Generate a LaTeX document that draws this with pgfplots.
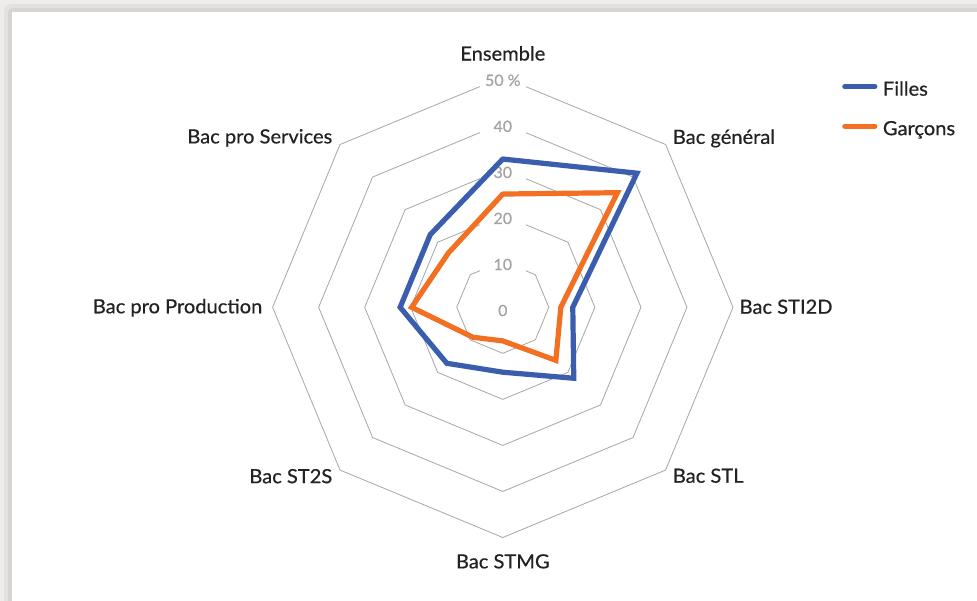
\documentclass[border=0pt]{standalone}
\usepackage{fontspec}
\setmainfont{Lato}
\newfontfamily\etiq{Lato}[FakeBold=0.5, FakeStretch=1.03]
\usepackage{pgfplots}
\usepackage{pgfplotstable}
\pgfplotsset{compat=1.18}

\definecolor{bleu}{HTML}{3A5DAE}
\definecolor{orng}{HTML}{F36F21}
\definecolor{grille}{HTML}{A6A6A6}
\definecolor{texte}{HTML}{222222}
\definecolor{gradu}{HTML}{A3A3A3}
\definecolor{ombreA}{HTML}{EFEDEC}
\definecolor{ombreB}{HTML}{E3E0DE}
\definecolor{ombreC}{HTML}{D7D4D2}

% angle (deg), share in %
\pgfplotstableread{
angle filles garcons
90   32.2 24.6
45   41.2 35.2
0    15.2 12.6
-45  21.8 16.3
-90  14.1 7.3
-135 17.2 9.2
180  22.3 19.8
135  22.3 16.7
90   32.2 24.6
}\donnees

\tikzset{gradu/.style={fill=white, minimum width=46pt, minimum height=20pt,
  inner sep=0pt, text=gradu, font=\etiq\fontsize{15.5}{16}\selectfont}}

\begin{document}
\begin{tikzpicture}[x=1pt,y=1pt]
\clip (0,0) rectangle (977,601);
% card and its shadow
\fill[ombreA] (0,0) rectangle (977,601);
\fill[ombreB, rounded corners=8] (4,-10) rectangle (990,597);
\fill[ombreC, rounded corners=5] (8,-10) rectangle (990,593);
\fill[white] (12,0) rectangle (977,589);

\begin{axis}[
  at={(502.8pt,293.7pt)}, anchor=center,
  x=4.604pt, y=4.604pt,
  xmin=-50, xmax=50, ymin=-50, ymax=50,
  hide axis, clip=false,
  legend style={at={(1.2368,0.9905)}, anchor=north west, draw=none, fill=none,
    inner sep=0pt, row sep=25.5pt,
    nodes={inner sep=0pt, text height=14pt, text depth=0pt,
      font=\etiq\fontsize{19.5}{20}\selectfont, text=texte},
    /tikz/every odd column/.append style={column sep=5.5pt}},
  legend cell align=left,
  legend image code/.code={\draw[#1] (0pt,2pt) -- (30pt,2pt);},
]
\pgfplotsinvokeforeach{10,20,30,40,50}{
  \addplot[grille, line width=0.8pt, forget plot, data cs=polar] coordinates {
    (90,#1) (45,#1) (0,#1) (-45,#1) (-90,#1) (-135,#1) (180,#1) (135,#1) (90,#1)};
}
% radial scale
\node[gradu] at (axis cs:0,-0.7) {0};
\node[gradu] at (axis cs:0,9.3) {10};
\node[gradu] at (axis cs:0,19.3) {20};
\node[gradu] at (axis cs:0,29.3) {30};
\node[gradu] at (axis cs:0,39.3) {40};
\node[gradu] at (axis cs:0,49.3) {50 \%};
% category labels
\begin{scope}[font=\etiq\fontsize{19.5}{20}\selectfont, text=texte, inner sep=0pt]
\node[anchor=base] at (axis cs:0,53.6) {Ensemble};
\node[anchor=base west] at (axis cs:36.9,35.5) {Bac général};
\node[anchor=base west] at (axis cs:51.4,-1.4) {Bac STI2D};
\node[anchor=base west] at (axis cs:36.9,-38.1) {Bac STL};
\node[anchor=base] at (axis cs:0,-56.7) {Bac STMG};
\node[anchor=base east] at (axis cs:-37.0,-38.2) {Bac ST2S};
\node[anchor=base east] at (axis cs:-52.2,-1.3) {Bac pro Production};
\node[anchor=base east] at (axis cs:-37.0,35.6) {Bac pro Services};
\end{scope}

\addplot[bleu, line width=5.2pt, line join=miter, line cap=round, data cs=polar]
  table[x=angle, y=filles] {\donnees};
\addlegendentry{Filles}
\addplot[orng, line width=5.2pt, line join=miter, line cap=round, data cs=polar]
  table[x=angle, y=garcons] {\donnees};
\addlegendentry{Garçons}
\end{axis}
\end{tikzpicture}
\end{document}
